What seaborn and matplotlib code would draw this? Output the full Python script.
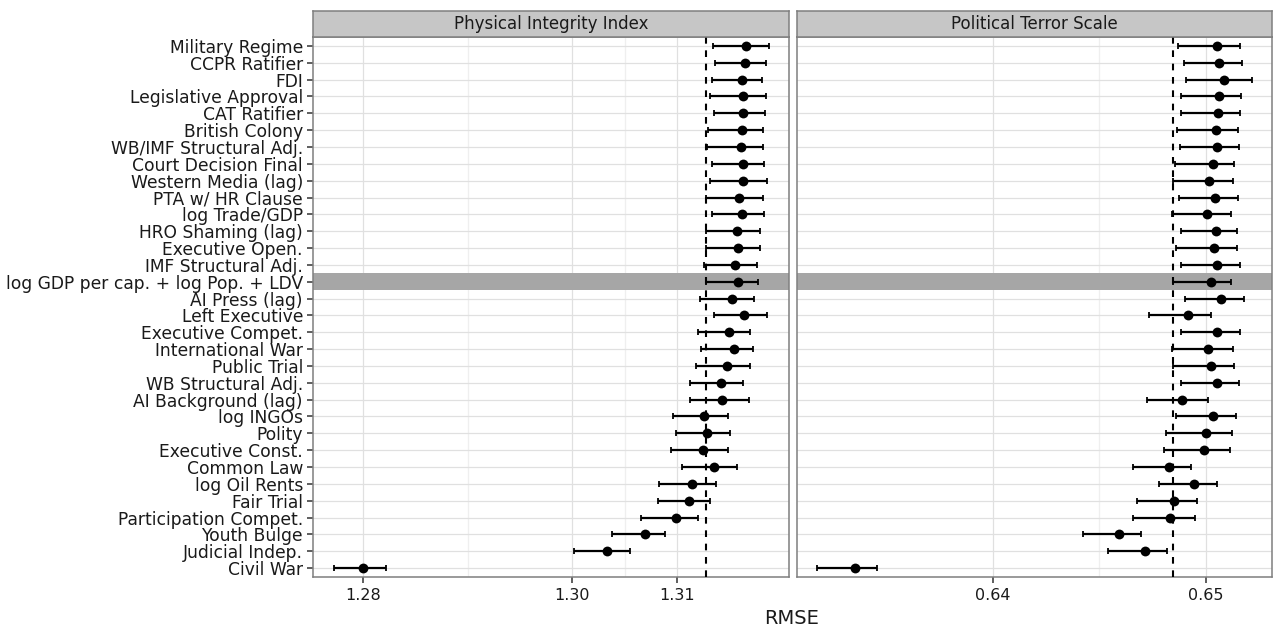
import matplotlib
matplotlib.use("Agg")
import matplotlib.pyplot as plt
import seaborn as sns
import pandas as pd
import numpy as np

categories = [
    "Military Regime", "CCPR Ratifier", "FDI", "Legislative Approval", "CAT Ratifier",
    "British Colony", "WB/IMF Structural Adj.", "Court Decision Final", "Western Media (lag)",
    "PTA w/ HR Clause", "log Trade/GDP", "HRO Shaming (lag)", "Executive Open.",
    "IMF Structural Adj.", "log GDP per cap. + log Pop. + LDV", "AI Press (lag)",
    "Left Executive", "Executive Compet.", "International War", "Public Trial",
    "WB Structural Adj.", "AI Background (lag)", "log INGOs", "Polity", "Executive Const.",
    "Common Law", "log Oil Rents", "Fair Trial", "Participation Compet.", "Youth Bulge",
    "Judicial Indep.", "Civil War",
]
highlight = "log GDP per cap. + log Pop. + LDV"

# Physical Integrity Index
pii_mean = [1.3166, 1.3165, 1.3162, 1.3163, 1.3163, 1.3162, 1.3161, 1.3163, 1.3163, 1.3159,
            1.3162, 1.3157, 1.3158, 1.3155, 1.3158, 1.3153, 1.3164, 1.3150, 1.3154, 1.3148,
            1.3142, 1.3143, 1.3126, 1.3129, 1.3125, 1.3135, 1.3114, 1.3111, 1.3099, 1.3069,
            1.3033, 1.2800]
pii_lo = [1.3134, 1.3136, 1.3133, 1.3132, 1.3135, 1.3130, 1.3129, 1.3133, 1.3132, 1.3128,
          1.3133, 1.3128, 1.3128, 1.3126, 1.3128, 1.3122, 1.3135, 1.3120, 1.3123, 1.3118,
          1.3112, 1.3112, 1.3096, 1.3099, 1.3094, 1.3105, 1.3083, 1.3082, 1.3066, 1.3038,
          1.3002, 1.2772]
pii_hi = [1.3188, 1.3185, 1.3181, 1.3185, 1.3184, 1.3182, 1.3182, 1.3183, 1.3186, 1.3182,
          1.3183, 1.3179, 1.3179, 1.3176, 1.3177, 1.3174, 1.3186, 1.3170, 1.3173, 1.3170,
          1.3163, 1.3169, 1.3149, 1.3151, 1.3149, 1.3157, 1.3137, 1.3132, 1.3120, 1.3089,
          1.3055, 1.2822]
pii_base = 1.3128

# Political Terror Scale
pts_mean = [0.65052, 0.65062, 0.65083, 0.65062, 0.65056, 0.65047, 0.65053, 0.65031, 0.65014,
            0.65042, 0.65006, 0.65048, 0.65036, 0.65052, 0.65025, 0.65069, 0.64915, 0.65052,
            0.65009, 0.65022, 0.65052, 0.64890, 0.65033, 0.65000, 0.64991, 0.64828, 0.64945,
            0.64850, 0.64832, 0.64590, 0.64714, 0.63352]
pts_lo = [0.64867, 0.64898, 0.64908, 0.64884, 0.64884, 0.64864, 0.64879, 0.64856, 0.64845,
          0.64873, 0.64840, 0.64884, 0.64861, 0.64884, 0.64845, 0.64900, 0.64735, 0.64885,
          0.64842, 0.64845, 0.64884, 0.64723, 0.64859, 0.64812, 0.64801, 0.64660, 0.64781,
          0.64676, 0.64660, 0.64421, 0.64540, 0.63177]
pts_hi = [0.65158, 0.65169, 0.65217, 0.65164, 0.65158, 0.65150, 0.65155, 0.65134, 0.65125,
          0.65150, 0.65119, 0.65148, 0.65148, 0.65158, 0.65119, 0.65177, 0.65023, 0.65161,
          0.65128, 0.65130, 0.65156, 0.65012, 0.65141, 0.65123, 0.65111, 0.64931, 0.65053,
          0.64958, 0.64950, 0.64696, 0.64818, 0.63455]
pts_base = 0.64845

panels = [
    dict(title="Physical Integrity Index", mean=pii_mean, lo=pii_lo, hi=pii_hi, base=pii_base,
         xlim=(1.2752, 1.3207), major=[1.28, 1.30, 1.31], minor=[1.29, 1.305],
         labels=["1.28", "1.30", "1.31"]),
    dict(title="Political Terror Scale", mean=pts_mean, lo=pts_lo, hi=pts_hi, base=pts_base,
         xlim=(0.6308, 0.6531), major=[0.64, 0.65], minor=[0.645],
         labels=["0.64", "0.65"]),
]

sns.set_theme(style="white")
plt.rcParams["font.family"] = ["DejaVu Sans"]

W, H = 1273, 629
fig = plt.figure(figsize=(W / 100, H / 100), dpi=100)

def fx(px):
    return px / W

def fy(py):
    return 1 - py / H

panel_top, panel_bot = 36.7, 577.3
strip_top = 10.7
panel_x = [(312.7, 789.0), (796.7, 1272.0)]

border = "#7f7f7f"
n = len(categories)
hi_idx = categories.index(highlight)

for i, (p, (x0, x1)) in enumerate(zip(panels, panel_x)):
    ax = fig.add_axes([fx(x0), fy(panel_bot), fx(x1 - x0), (panel_bot - panel_top) / H])
    df = pd.DataFrame({"category": categories, "mean": p["mean"], "lo": p["lo"], "hi": p["hi"]})

    ax.set_xlim(*p["xlim"])
    for v in p["minor"]:
        ax.axvline(v, color="#efefef", lw=0.9, zorder=0)
    for v in p["major"]:
        ax.axvline(v, color="#e0e0e0", lw=0.9, zorder=0)

    # highlight band
    ax.axhspan(hi_idx - 0.5, hi_idx + 0.5, color="#a6a6a6", lw=0, zorder=0.5)

    # error bars
    ax.errorbar(df["mean"], df["category"],
                xerr=[df["mean"] - df["lo"], df["hi"] - df["mean"]],
                fmt="none", ecolor="black", elinewidth=1.6, capsize=2.3, capthick=1.3, zorder=3)
    sns.scatterplot(data=df, x="mean", y="category", ax=ax, color="black", s=50,
                    edgecolor="black", linewidth=0, zorder=4, legend=False)

    for k in range(n):
        ax.axhline(k, color="#e0e0e0", lw=0.9, zorder=0.2)

    ax.axvline(p["base"], color="black", lw=1.5, ls=(0, (3.2, 3.2)), zorder=5)

    ax.set_ylim(n - 1 + 0.55, -0.55)
    ax.set_xlim(*p["xlim"])
    ax.set_xticks(p["major"])
    ax.set_xticklabels(p["labels"], fontsize=11.5, color="#1a1a1a")
    ax.set_xlabel("")
    ax.set_ylabel("")
    ax.tick_params(axis="x", length=4, width=1.1, color="#333333", bottom=True, pad=4)
    if i == 0:
        ax.tick_params(axis="y", length=4, width=1.1, color="#333333", left=True, pad=3,
                       labelsize=12.3, labelcolor="#1a1a1a")
    else:
        ax.tick_params(axis="y", left=False, labelleft=False)
    for s in ax.spines.values():
        s.set_color(border)
        s.set_linewidth(1.1)
        s.set_visible(True)
    ax.set_facecolor("white")
    ax.grid(False)

    # strip
    sax = fig.add_axes([fx(x0), fy(panel_top), fx(x1 - x0), (panel_top - strip_top) / H])
    sax.set_facecolor("#c6c6c6")
    sax.set_xticks([])
    sax.set_yticks([])
    for s in sax.spines.values():
        s.set_color(border)
        s.set_linewidth(1.1)
        s.set_visible(True)
    sax.text(0.5, 0.47, p["title"], ha="center", va="center", fontsize=12,
             color="#1a1a1a", transform=sax.transAxes)

fig.text(fx(792), fy(618), "RMSE", ha="center", va="center", fontsize=14, color="#1a1a1a")

fig.savefig("out.png", dpi=100)
